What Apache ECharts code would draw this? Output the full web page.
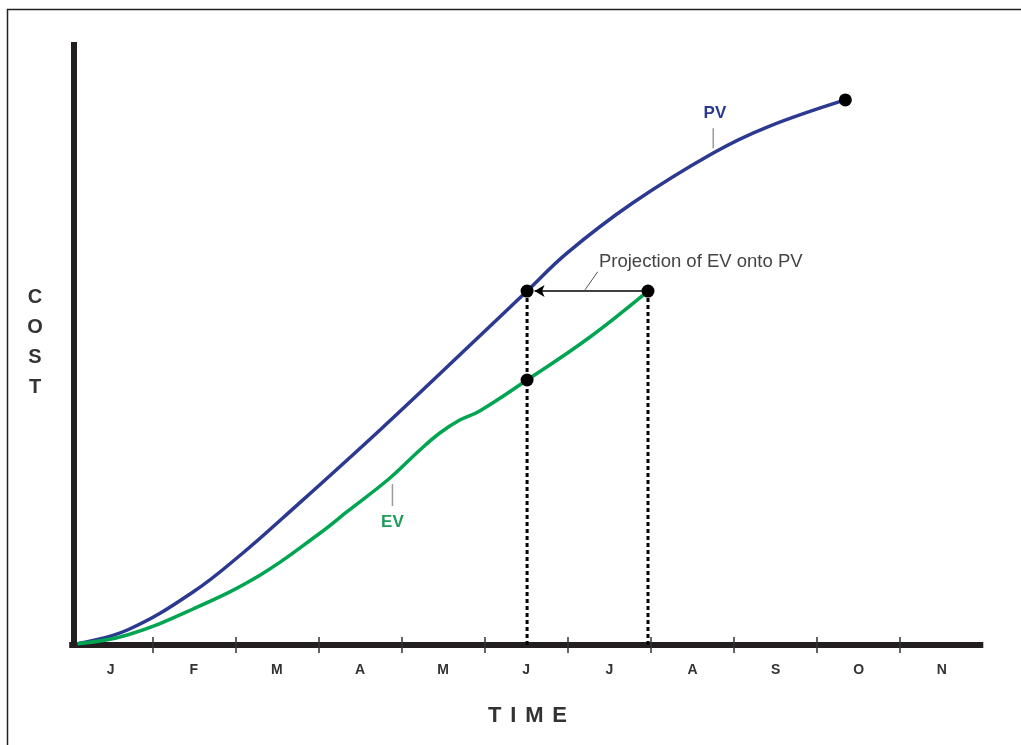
<!DOCTYPE html>
<html>
<head>
<meta charset="utf-8">
<script src="https://cdn.jsdelivr.net/npm/echarts@6/dist/echarts.min.js"></script>
<style>
  html, body { margin: 0; padding: 0; background: #fff; }
  #chart { width: 1021px; height: 745px; }
</style>
</head>
<body>
<div id="chart"></div>
<script>
// ---- data ----
const months = ['J', 'F', 'M', 'A', 'M', 'J', 'J', 'A', 'S', 'O', 'N'];
const monthTicks = [1, 2, 3, 4, 5, 6, 7, 8, 9, 10];
const monthLabelPos = [0.5, 1.5, 2.5, 3.5, 4.5, 5.5, 6.5, 7.5, 8.5, 9.5, 10.5];

// Planned value curve (x in months, y in cost units 0-100)
const pvX = [0.1, 0.70, 1.49, 2.09, 2.57, 3.74, 4.94, 5.51, 5.99, 6.78, 7.75, 8.40, 9.34];
const pvY = [0.2, 2.49, 8.79, 15.26, 21.06, 35.66, 51.24, 58.7, 65.0, 73.3, 81.6, 85.9, 90.4];
// Earned value curve
const evX = [0.1, 0.70, 1.49, 2.30, 3.02, 3.34, 3.86, 4.22, 4.46, 4.70, 4.94, 5.51, 6.23, 6.965];
const evY = [0.2, 1.66, 5.97, 11.61, 18.57, 22.06, 27.69, 32.34, 35.16, 37.31, 38.81, 43.95, 50.7, 58.7];

// key points
const statusDate = 5.51;        // status date (dashed drop line)
const evStatus = 43.95;         // EV at status date
const pvStatus = 58.7;          // PV at status date
const evProjDate = 6.965;       // EV end point date
const pvEnd = [9.34, 90.4];     // PV end point
const arrowTipX = 5.6;          // arrow tip just right of PV point

const pvData = pvX.map((x, i) => [x, pvY[i]]);
const evData = evX.map((x, i) => [x, evY[i]]);
const dotData = [[statusDate, pvStatus], [evProjDate, pvStatus], [statusDate, evStatus], pvEnd];

const BLUE = '#2b3990';
const GREEN = '#00a551';
const FONT = 'Liberation Sans, Arial, sans-serif';

const chart = echarts.init(document.getElementById('chart'), null, { renderer: 'canvas' });

const xBase = {
  type: 'value', min: 0, max: 11, position: 'bottom',
  splitLine: { show: false }
};

chart.setOption({
  animation: false,
  backgroundColor: '#fff',
  grid: { left: 69.2, right: 37.7, top: 42, bottom: 100, containLabel: false },
  xAxis: [
    Object.assign({}, xBase, {
      axisLine: { show: true, lineStyle: { color: '#231f20', width: 6, cap: 'butt' } },
      axisTick: { show: true, inside: false, length: 8, customValues: monthTicks,
                  lineStyle: { color: '#333', width: 1.5 } },
      axisLabel: { show: true, customValues: monthLabelPos, margin: 18,
                   formatter: v => months[Math.floor(v)],
                   color: '#333', fontSize: 14, fontWeight: 'bold', fontFamily: FONT }
    }),
    Object.assign({}, xBase, {
      axisLine: { show: false },
      axisTick: { show: true, inside: true, length: 8, customValues: monthTicks,
                  lineStyle: { color: '#333', width: 1.5 } },
      axisLabel: { show: false }
    })
  ],
  yAxis: {
    type: 'value', min: 0, max: 100, offset: -5,
    axisLine: { show: true, lineStyle: { color: '#231f20', width: 6, cap: 'butt' } },
    axisTick: { show: false }, axisLabel: { show: false }, splitLine: { show: false }
  },
  series: [
    {
      type: 'line', name: 'drop1', data: [[statusDate, pvStatus], [statusDate, 0]],
      symbol: 'none', lineStyle: { color: '#000', width: 3, type: [4, 3] }, z: 1
    },
    {
      type: 'line', name: 'drop2', data: [[evProjDate, pvStatus], [evProjDate, 0]],
      symbol: 'none', lineStyle: { color: '#000', width: 3, type: [4, 3] }, z: 1
    },
    {
      type: 'line', name: 'PV', data: pvData, smooth: 0.4, symbol: 'none',
      lineStyle: { color: BLUE, width: 3.5 }, z: 3
    },
    {
      type: 'line', name: 'EV', data: evData, smooth: 0.4, symbol: 'none',
      lineStyle: { color: GREEN, width: 3.5 }, z: 3,
      markLine: {
        silent: true, symbol: ['none', 'arrow'], symbolSize: [9, 10],
        label: { show: false },
        lineStyle: { color: '#000', width: 1.5, type: 'solid' },
        data: [[{ coord: [evProjDate, pvStatus] }, { coord: [arrowTipX, pvStatus] }]]
      }
    },
    // leader lines for labels
    {
      type: 'line', data: [[7.75, 85.7], [7.75, 82.4]], symbol: 'none',
      lineStyle: { color: '#9a9a9a', width: 1.5 }, z: 2
    },
    {
      type: 'line', data: [[3.89, 26.7], [3.89, 23.05]], symbol: 'none',
      lineStyle: { color: '#9a9a9a', width: 1.5 }, z: 2
    },
    {
      type: 'line', data: [[6.207, 58.9], [6.36, 61.9]], symbol: 'none',
      lineStyle: { color: '#555', width: 1 }, z: 2
    },
    {
      type: 'scatter', data: dotData, symbol: 'circle', symbolSize: 13,
      itemStyle: { color: '#000', opacity: 1 }, z: 5
    }
  ]
});

const px = (x, y) => chart.convertToPixel({ gridIndex: 0 }, [x, y]);
const pvLab = px(7.77, 88.1);
const evLab = px(3.89, 20.4);
const projLab = px(6.375, 63.5);

const timeLetters = [['T', 494.7], ['I', 513.3], ['M', 534.3], ['E', 559.6]];

chart.setOption({
  graphic: [
    { type: 'rect', silent: true, z: -10,
      shape: { x: 7.5, y: 9.5, width: 1100, height: 800 },
      style: { fill: 'none', stroke: '#222', lineWidth: 1.5 } },
    { type: 'text', x: pvLab[0], y: pvLab[1],
      style: { text: 'PV', fill: BLUE, font: 'bold 17px ' + FONT, align: 'center', verticalAlign: 'middle' } },
    { type: 'text', x: evLab[0], y: evLab[1],
      style: { text: 'EV', fill: '#1e9a5a', font: 'bold 17px ' + FONT, align: 'center', verticalAlign: 'middle' } },
    { type: 'text', x: projLab[0], y: projLab[1],
      style: { text: 'Projection of EV onto PV', fill: '#444', font: '18.5px ' + FONT, align: 'left', verticalAlign: 'middle' } },
    { type: 'text', x: 35, y: 342,
      style: { text: 'C\nO\nS\nT', fill: '#333', font: 'bold 20px ' + FONT, lineHeight: 30,
               align: 'center', verticalAlign: 'middle' } }
  ].concat(timeLetters.map(([t, x]) => ({
    type: 'text', x: x, y: 716,
    style: { text: t, fill: '#333', font: 'bold 22px ' + FONT, align: 'center', verticalAlign: 'middle' }
  })))
});
</script>
</body>
</html>
